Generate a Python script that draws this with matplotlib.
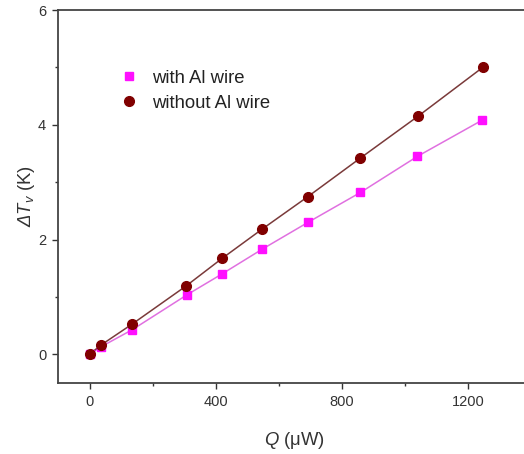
import matplotlib
matplotlib.use("Agg")
import matplotlib.pyplot as plt
from matplotlib.ticker import MultipleLocator
from matplotlib.lines import Line2D

plt.rcParams['font.family'] = ['Liberation Sans', 'DejaVu Sans']
plt.rcParams['mathtext.fontset'] = 'custom'
plt.rcParams['mathtext.rm'] = 'Liberation Sans:italic'
plt.rcParams['mathtext.it'] = 'Liberation Sans:italic'

q_with = [0, 36, 136, 310, 420, 547, 693, 859, 1040, 1245]
dt_with = [0.0, 0.13, 0.43, 1.04, 1.40, 1.83, 2.30, 2.82, 3.45, 4.08]
err_with = [0.04, 0.04, 0.05, 0.05, 0.05, 0.05, 0.05, 0.05, 0.05, 0.05]

q_without = [0, 36, 136, 306, 420, 547, 693, 859, 1042, 1247]
dt_without = [0.0, 0.16, 0.53, 1.19, 1.67, 2.18, 2.75, 3.42, 4.15, 5.00]
err_without = [0.04, 0.04, 0.05, 0.05, 0.05, 0.05, 0.05, 0.05, 0.05, 0.05]

labels = ['with Al wire', 'without Al wire']

W, H = 524, 454
fig = plt.figure(figsize=(W / 100, H / 100), dpi=100)
left, right, top, bottom = 58, 531, 10, 383
ax = fig.add_axes([left / W, (H - bottom) / H, (right - left) / W, (bottom - top) / H])

c_with = '#ff10ff'
c_without = '#800000'
ax.plot(q_with, dt_with, '-', color='#e070e0', lw=1.1, zorder=2)
ax.plot(q_without, dt_without, '-', color='#7a3a3a', lw=1.1, zorder=2)
ax.errorbar(q_with, dt_with, yerr=err_with, fmt='s', color=c_with, ms=6,
            mec=c_with, ecolor=c_with, elinewidth=1, capsize=2.5, zorder=3)
ax.errorbar(q_without, dt_without, yerr=err_without, fmt='o', color=c_without, ms=7,
            mec=c_without, ecolor=c_without, elinewidth=1, capsize=2.5, zorder=4)

ax.set_xlim(-100, 1400)
ax.set_ylim(-0.5, 6)
ax.xaxis.set_major_locator(MultipleLocator(400))
ax.xaxis.set_minor_locator(MultipleLocator(200))
ax.yaxis.set_major_locator(MultipleLocator(2))
ax.yaxis.set_minor_locator(MultipleLocator(1))
ax.tick_params(which='major', direction='out', length=4.5, width=1, labelsize=10.5,
               colors='#333333', labelcolor='#333333', pad=4)
ax.tick_params(which='minor', direction='out', length=2.5, width=1, colors='#333333')
ax.tick_params(top=False, right=False, which='both')
for s in ['left', 'bottom', 'top']:
    ax.spines[s].set_color('#444444')
    ax.spines[s].set_linewidth(1.3)
ax.spines['right'].set_visible(False)

ax.set_xlabel(r'$Q$ (μW)', fontsize=13.3, color='#333333', labelpad=15)
ax.set_ylabel(r'$\Delta T_v$ (K)', fontsize=13.3, color='#333333', labelpad=1)

handles = [Line2D([], [], ls='none', marker='s', ms=6, color=c_with),
           Line2D([], [], ls='none', marker='o', ms=7, color=c_without)]
leg = ax.legend(handles, labels, loc='upper left', bbox_to_anchor=(0.095, 0.885),
                frameon=False, fontsize=13.3, handletextpad=0.75, labelspacing=0.45,
                handlelength=1.0)
for t in leg.get_texts():
    t.set_color('#222222')

fig.savefig('out.png', dpi=100)
